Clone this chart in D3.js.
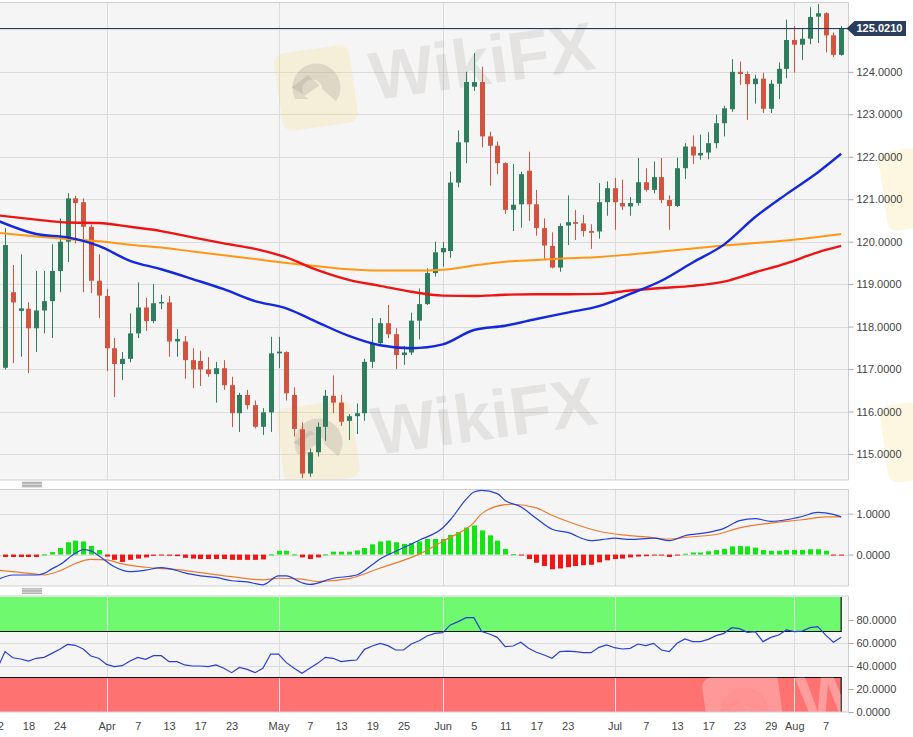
<!DOCTYPE html>
<html lang="en">
<head>
<meta charset="utf-8">
<title>Daily candles with MACD and RSI</title>
<script src="https://d3js.org/d3.v7.min.js"></script>
<style>
  html, body { margin: 0; padding: 0; background: #fff; }
  svg { display: block; font-family: "Liberation Sans", Arial, sans-serif; }
  .ax text { font-size: 11px; fill: #444; }
  .ax line { stroke: #aaa; }
  .ax path { display: none; }
</style>
</head>
<body>
<div id="viz"></div>
<script>
// ---------- data ----------
// trading days; Mar 12 sits just left of the visible window (bar index -1)
const firstDay = "2020-03-12";
const lastDay = "2020-08-11";

const open  = [117.03,118.81,118.37,118.42,117.96,118.38,118.60,119.31,120.00,121.02,120.93,120.35,119.08,118.72,117.49,117.12,117.24,117.84,118.45,118.13,118.55,118.57,117.65,117.65,117.21,117.19,116.99,116.88,117.02,116.62,115.96,116.39,116.15,115.64,115.98,117.37,117.40,116.39,115.58,114.54,115.04,115.64,116.37,116.21,115.78,115.89,115.96,117.17,117.61,118.08,117.82,117.33,117.39,118.14,118.53,119.26,119.75,119.78,121.39,122.34,123.65,123.76,122.48,122.26,121.85,120.75,120.88,121.67,120.88,120.32,119.90,119.39,120.38,120.46,120.43,120.25,120.24,120.93,121.26,120.91,120.83,120.91,121.40,121.22,121.52,120.98,120.84,121.73,122.24,122.03,122.10,122.32,122.79,123.12,124.00,123.95,123.71,123.84,123.13,123.72,124.07,124.75,124.64,124.78,125.30,125.38,124.86,124.40];
const high  = [120.32,119.45,119.70,118.57,119.31,119.31,119.94,120.55,121.14,121.08,121.02,120.40,119.70,118.89,117.73,117.40,118.31,119.04,118.68,119.00,118.75,118.72,117.94,117.78,117.49,117.43,117.28,117.17,117.21,116.82,116.44,116.51,116.26,116.08,117.76,117.76,117.42,116.57,115.74,115.13,115.74,116.51,116.85,116.39,115.94,116.19,117.24,118.20,118.20,118.51,117.96,117.54,118.33,118.90,119.37,120.00,119.99,121.65,122.62,124.00,124.44,124.12,122.59,122.36,121.87,121.83,121.65,122.12,121.22,120.55,120.22,120.43,121.09,120.75,120.63,120.41,121.38,121.42,121.50,121.46,121.05,121.97,121.73,121.89,121.97,121.09,121.98,122.32,122.50,122.52,122.58,122.99,123.20,124.30,124.24,124.01,123.93,123.98,123.81,124.22,125.23,125.08,125.01,125.52,125.60,125.40,124.93,125.08];
const low   = [116.99,117.14,117.29,116.90,117.40,117.84,117.73,118.81,119.52,119.96,118.81,118.79,118.20,116.95,116.34,116.74,117.16,117.73,117.90,118.08,118.41,117.29,117.29,116.77,116.55,116.60,116.82,116.21,116.51,115.63,115.52,116.05,115.60,115.45,115.52,117.02,116.26,115.41,114.43,114.46,114.94,115.31,115.96,115.66,115.33,115.47,115.78,117.02,117.57,117.73,117.00,117.10,117.33,117.70,118.51,119.18,119.41,119.62,121.28,121.85,123.55,122.22,121.32,121.59,120.65,120.25,120.33,120.49,120.14,119.59,119.37,119.29,119.92,120.04,120.12,119.83,120.07,120.61,120.28,120.75,120.61,120.85,121.18,121.14,120.91,120.28,120.82,121.48,121.83,121.93,121.94,122.20,122.48,123.06,123.69,122.87,123.25,123.03,123.03,123.36,123.85,123.98,124.28,124.65,124.68,124.46,124.35,124.38];
const close = [119.92,118.57,118.43,117.96,118.38,118.60,119.31,120.00,121.02,120.91,120.35,119.08,118.73,117.49,117.12,117.24,117.84,118.45,118.13,118.55,118.58,117.65,117.71,117.21,116.99,116.99,116.88,117.02,116.62,115.96,116.39,116.15,115.64,115.98,117.37,117.41,116.43,115.59,114.54,115.04,115.64,116.37,116.21,115.76,115.89,115.96,117.17,117.61,118.08,117.82,117.33,117.39,118.14,118.53,119.26,119.75,119.85,121.39,122.34,123.76,123.76,122.48,122.26,121.85,120.75,120.87,121.59,120.88,120.32,119.91,119.39,120.37,120.46,120.42,120.25,120.21,120.93,121.26,120.93,120.83,120.91,121.40,121.22,121.52,120.98,120.84,121.73,122.24,122.03,122.09,122.32,122.79,123.14,124.00,123.95,123.71,123.84,123.13,123.72,124.07,124.75,124.64,124.78,125.29,125.38,124.86,124.40,125.021];
const lastPrice = 125.0210;

// moving averages, sampled at bar indices
const maAt   = [-1,4,8,12,16,20,24,28,32,36,40,44,48,52,56,60,64,68,72,76,80,84,88,92,96,100,104,107];
const maFast = [120.50,120.18,120.10,119.90,119.55,119.35,119.12,118.88,118.60,118.43,118.10,117.78,117.56,117.49,117.58,117.92,118.02,118.18,118.33,118.48,118.77,119.08,119.51,119.93,120.58,121.12,121.63,122.07];
const maMid  = [120.62,120.52,120.45,120.44,120.35,120.25,120.10,119.96,119.83,119.63,119.33,119.10,118.96,118.82,118.73,118.72,118.75,118.76,118.76,118.77,118.85,118.91,118.96,119.06,119.28,119.49,119.75,119.90];
const maSlow = [120.21,120.12,120.06,120.01,119.93,119.86,119.77,119.68,119.59,119.50,119.42,119.35,119.32,119.32,119.34,119.44,119.53,119.57,119.61,119.64,119.70,119.77,119.84,119.91,119.97,120.03,120.11,120.18];

// MACD
const macdAt = [-1,1,2,4,5,6,7,9,10,11,12,13,14,15,16,18,20,22,23,25,27,29,31,33,35,36,38,39,42,45,47,48,50,53,56,57,59,60,61,63,64,66,68,70,72,75,77,78,80,83,85,87,90,92,94,96,98,100,102,104,106,107];
const macd   = [-0.62,-0.50,-0.50,-0.50,-0.46,-0.35,-0.25,0.03,0.12,0.09,-0.03,-0.17,-0.30,-0.38,-0.42,-0.38,-0.32,-0.39,-0.45,-0.52,-0.56,-0.64,-0.67,-0.74,-0.52,-0.52,-0.69,-0.73,-0.58,-0.50,-0.25,-0.11,0.08,0.35,0.65,0.85,1.35,1.53,1.57,1.49,1.32,1.17,0.88,0.62,0.54,0.34,0.38,0.40,0.37,0.40,0.34,0.46,0.54,0.64,0.83,0.88,0.81,0.85,0.93,1.03,0.98,0.92];
const signalAt = [-1,4,5,7,9,11,13,15,18,22,25,29,33,35,38,40,44,48,53,56,57,60,61,64,65,68,70,73,76,79,82,85,87,91,94,98,102,105,107];
const signal   = [-0.38,-0.48,-0.50,-0.40,-0.22,-0.12,-0.13,-0.23,-0.31,-0.37,-0.44,-0.54,-0.62,-0.58,-0.60,-0.66,-0.59,-0.33,0.01,0.32,0.42,0.78,1.00,1.22,1.23,1.14,0.96,0.74,0.57,0.48,0.43,0.38,0.42,0.49,0.65,0.77,0.85,0.92,0.92];
const hist = [-0.06,-0.06,-0.06,-0.06,-0.06,0.005,0.06,0.16,0.30,0.34,0.32,0.21,0.11,-0.05,-0.13,-0.18,-0.13,-0.10,-0.07,-0.03,-0.005,-0.03,-0.04,-0.08,-0.10,-0.11,-0.11,-0.11,-0.11,-0.13,-0.13,-0.13,-0.13,-0.12,0.005,0.09,0.09,0.005,-0.07,-0.11,-0.07,0.005,0.07,0.07,0.07,0.10,0.16,0.25,0.32,0.34,0.30,0.26,0.28,0.32,0.38,0.38,0.38,0.48,0.55,0.66,0.71,0.59,0.47,0.34,0.14,0.01,-0.02,-0.11,-0.20,-0.28,-0.36,-0.34,-0.31,-0.28,-0.26,-0.25,-0.19,-0.14,-0.11,-0.10,-0.07,-0.05,-0.04,-0.02,-0.02,-0.06,-0.01,0.02,0.05,0.05,0.08,0.11,0.14,0.20,0.21,0.20,0.17,0.11,0.09,0.09,0.11,0.11,0.11,0.13,0.13,0.09,-0.005,-0.005];

// RSI, first value belongs to bar index -1
const rsi = [37.5,52.5,47.2,46.1,44.3,46.7,47.5,51.0,54.5,58.8,58.0,54.8,48.7,46.7,41.4,39.4,40.3,44.3,47.5,45.8,49.0,49.0,43.8,43.8,40.9,40.0,40.0,39.4,40.9,38.0,34.2,38.8,37.1,34.2,38.0,50.4,50.4,42.9,38.0,33.6,38.0,42.3,47.5,46.7,43.8,44.6,45.2,54.5,57.4,59.7,57.7,53.9,53.9,59.1,62.0,66.1,68.4,69.0,75.7,78.6,82.0,82.0,69.9,67.8,64.9,56.8,57.4,60.6,55.4,51.9,49.6,46.7,52.5,53.0,52.5,51.6,51.6,56.2,58.3,55.9,54.8,55.4,59.1,57.7,59.7,53.9,52.5,59.7,63.5,61.2,61.2,63.2,66.4,68.4,73.3,72.5,69.3,69.9,61.2,64.9,67.0,71.3,69.9,70.4,73.3,74.2,67.0,60.6,64.9];
const rsiBands = { over: 70, under: 30, top: 100 };

// axis ticks
const priceTicks = [115,116,117,118,119,120,121,122,123,124];
const macdTicks = [0, 1];
const rsiTicks = [0, 20, 40, 60, 80];
const dateTicks = ["2020-03-12","2020-03-18","2020-03-24","2020-04-01","2020-04-07","2020-04-13","2020-04-17","2020-04-23","2020-05-01","2020-05-07","2020-05-13","2020-05-19","2020-05-25","2020-06-01","2020-06-05","2020-06-11","2020-06-17","2020-06-23","2020-07-01","2020-07-07","2020-07-13","2020-07-17","2020-07-23","2020-07-29","2020-08-03","2020-08-07"];
const dateLabels = ["12","18","24","Apr","7","13","17","23","May","7","13","19","25","Jun","5","11","17","23","Jul","7","13","17","23","29","Aug","7"];

// ---------- layout ----------
const W = 913, H = 737;
const plotR = 848.5;
const pane = {
  price: { top: 2.5, bottom: 480 },
  macd:  { top: 489.5, bottom: 586 },
  rsi:   { top: 596, bottom: 712 }
};

const parse = d3.utcParse("%Y-%m-%d");
const days = d3.utcDay.range(parse(firstDay), d3.utcDay.offset(parse(lastDay), 1))
  .filter(d => d.getUTCDay() !== 0 && d.getUTCDay() !== 6);
const barOf = s => days.findIndex(d => +d === +parse(s)) - 1;

const x = d3.scaleLinear().domain([-0.64, 107.94]).range([0, plotR]);
const yP = d3.scaleLinear().domain([114.387, 125.633]).range([pane.price.bottom, pane.price.top]);
const yM = d3.scaleLinear().domain([-0.769, 1.59]).range([pane.macd.bottom, pane.macd.top]);
const yR = d3.scaleLinear().domain([0, 100.87]).range([pane.rsi.bottom, pane.rsi.top]);

const svg = d3.select("#viz").append("svg").attr("width", W).attr("height", H);
svg.append("rect").attr("width", W).attr("height", H).attr("fill", "#fff");

const defs = svg.append("defs");
Object.entries(pane).forEach(([k, p]) => {
  defs.append("clipPath").attr("id", "clip-" + k)
    .append("rect").attr("x", 0).attr("y", p.top).attr("width", plotR).attr("height", p.bottom - p.top);
});

// pane backgrounds
Object.values(pane).forEach(p => {
  svg.append("rect").attr("x", 0).attr("y", p.top).attr("width", plotR).attr("height", p.bottom - p.top)
    .attr("fill", "#f5f5f5");
});

const monthBars = dateTicks.filter((d, i) => /^[A-Z]/.test(dateLabels[i])).map(barOf);

function grid(p, yScale, ticks) {
  const g = svg.append("g").attr("stroke", "#dcdcdc").attr("stroke-width", 1);
  g.selectAll(".h").data(ticks).enter().append("line")
    .attr("x1", 0).attr("x2", plotR)
    .attr("y1", d => Math.round(yScale(d)) + 0.5).attr("y2", d => Math.round(yScale(d)) + 0.5);
  g.selectAll(".v").data(monthBars).enter().append("line")
    .attr("y1", p.top).attr("y2", p.bottom)
    .attr("x1", d => Math.round(x(d)) + 0.5).attr("x2", d => Math.round(x(d)) + 0.5);
}
grid(pane.price, yP, priceTicks.concat([125]));
grid(pane.macd, yM, macdTicks);

// RSI bands, then grid
const lastX = x(open.length - 1);
svg.append("rect").attr("x", 0).attr("width", lastX)
  .attr("y", yR(rsiBands.top)).attr("height", yR(rsiBands.over) - yR(rsiBands.top)).attr("fill", "#6ff96f");
svg.append("rect").attr("x", 0).attr("width", lastX)
  .attr("y", yR(rsiBands.under)).attr("height", yR(0) - yR(rsiBands.under)).attr("fill", "#ff7272");
grid(pane.rsi, yR, rsiTicks.filter(d => d > 30 && d < 70));
svg.selectAll(".vband").data(monthBars).enter().append("line")
  .attr("y1", yR(rsiBands.top)).attr("y2", yR(rsiBands.over))
  .attr("x1", d => Math.round(x(d)) + 0.5).attr("x2", d => Math.round(x(d)) + 0.5)
  .attr("stroke", "rgba(255,255,255,0.25)");
svg.selectAll(".vband2").data(monthBars).enter().append("line")
  .attr("y1", yR(rsiBands.under)).attr("y2", yR(0))
  .attr("x1", d => Math.round(x(d)) + 0.5).attr("x2", d => Math.round(x(d)) + 0.5)
  .attr("stroke", "rgba(255,255,255,0.25)");
const bandLine = svg.append("g").attr("stroke", "#111").attr("stroke-width", 1.2).attr("fill", "none");
bandLine.append("path").attr("d", `M0,${yR(rsiBands.over)}H${lastX}V${yR(rsiBands.top)}`);
bandLine.append("path").attr("d", `M0,${yR(rsiBands.under)}H${lastX}V${yR(0)}`);

// watermarks
function watermark(parent, cx, cy, textFill, logoFill, eagleFill) {
  const w = parent.append("g").attr("transform", `translate(${cx},${cy}) rotate(-8)`);
  w.append("rect").attr("x", -38).attr("y", -39).attr("width", 76).attr("height", 78).attr("rx", 10)
    .attr("fill", logoFill);
  w.append("path").attr("d", "M-22,8 A24,24 0 1,1 18,16 L6,2 A10,10 0 1,0 -8,10 Z").attr("fill", eagleFill);
  w.append("path").attr("d", "M-24,-4 L-6,-14 L4,-2 L-12,6 Z").attr("fill", eagleFill);
  w.append("text").attr("x", 55).attr("y", 20).text("WikiFX")
    .attr("font-size", 68).attr("font-weight", "bold").attr("fill", textFill);
}
const wmP = svg.append("g").attr("clip-path", "url(#clip-price)");
watermark(wmP, 316, 88, "rgba(120,100,100,0.13)", "rgba(246,214,120,0.22)", "rgba(110,100,100,0.16)");
watermark(wmP, 318, 443, "rgba(120,100,100,0.13)", "rgba(246,214,120,0.22)", "rgba(110,100,100,0.16)");
const wmR = svg.append("g");
wmR.append("rect").attr("x", 883).attr("y", 150).attr("width", 40).attr("height", 80).attr("rx", 10)
  .attr("fill", "rgba(246,214,120,0.22)").attr("transform", "rotate(-8 900 190)");
wmR.append("rect").attr("x", 884).attr("y", 404).attr("width", 40).attr("height", 78).attr("rx", 10)
  .attr("fill", "rgba(246,214,120,0.22)").attr("transform", "rotate(-8 900 443)");
defs.append("clipPath").attr("id", "clip-red").append("rect")
  .attr("x", 0).attr("y", yR(rsiBands.under)).attr("width", lastX).attr("height", yR(0) - yR(rsiBands.under));
const wmB = svg.append("g").attr("clip-path", "url(#clip-red)");
watermark(wmB, 744, 712, "rgba(255,255,255,0.30)", "rgba(255,255,255,0.28)", "rgba(255,140,140,0.5)");

// pane borders
const border = svg.append("g").attr("stroke", "#cfcfcf").attr("stroke-width", 1).attr("fill", "none");
Object.values(pane).forEach(p => {
  border.append("path").attr("d", `M0,${p.top}H${plotR}V${p.bottom}H0`);
});

// separator grips
[484.5, 591].forEach(yy => {
  const g = svg.append("g").attr("stroke", "#777").attr("stroke-width", 0.7);
  [-2.2, -0.7, 0.8, 2.3].forEach(o => g.append("line").attr("x1", 22).attr("x2", 42)
    .attr("y1", yy + o).attr("y2", yy + o));
});

// ---------- price pane ----------
const upCol = "#2e7d5f", downCol = "#d2533f";
const bars = open.map((o, i) => ({ i, o, h: high[i], l: low[i], c: close[i] }));
const cg = svg.append("g").attr("clip-path", "url(#clip-price)");
cg.selectAll(".wick").data(bars).enter().append("line")
  .attr("x1", d => Math.round(x(d.i)) + 0.5).attr("x2", d => Math.round(x(d.i)) + 0.5)
  .attr("y1", d => yP(d.h)).attr("y2", d => yP(d.l))
  .attr("stroke", d => d.c >= d.o ? upCol : downCol).attr("stroke-width", 1);
cg.selectAll(".body").data(bars).enter().append("rect")
  .attr("x", d => Math.round(x(d.i)) - 2).attr("width", 5)
  .attr("y", d => yP(Math.max(d.o, d.c)))
  .attr("height", d => Math.max(1.5, Math.abs(yP(d.o) - yP(d.c))))
  .attr("fill", d => d.c >= d.o ? upCol : downCol);

const maLine = d3.line().x(d => x(d[0])).y(d => yP(d[1])).curve(d3.curveMonotoneX);
[[maSlow, "#ff9614", 2], [maMid, "#ee1414", 2.4], [maFast, "#1428dc", 2.4]].forEach(([vals, col, w]) => {
  cg.append("path").datum(maAt.map((a, k) => [a, vals[k]]))
    .attr("d", maLine).attr("fill", "none").attr("stroke", col).attr("stroke-width", w);
});

// last price line and tag
const yLast = yP(lastPrice);
svg.append("line").attr("x1", 0).attr("x2", plotR).attr("y1", yLast).attr("y2", yLast)
  .attr("stroke", "#263a5b").attr("stroke-width", 1.2);

// ---------- MACD pane ----------
const mg = svg.append("g").attr("clip-path", "url(#clip-macd)");
mg.selectAll(".hb").data(hist).enter().append("rect")
  .attr("x", (d, i) => Math.round(x(i)) - 2).attr("width", 5)
  .attr("y", d => d >= 0 ? yM(d) : yM(0))
  .attr("height", d => Math.max(1, Math.abs(yM(d) - yM(0))))
  .attr("fill", d => d >= 0 ? "#12e612" : "#f51414");
const mLine = d3.line().x(d => x(d[0])).y(d => yM(d[1])).curve(d3.curveMonotoneX);
mg.append("path").datum(signalAt.map((a, k) => [a, signal[k]])).attr("d", mLine)
  .attr("fill", "none").attr("stroke", "#f07a2c").attr("stroke-width", 1.2);
mg.append("path").datum(macdAt.map((a, k) => [a, macd[k]])).attr("d", mLine)
  .attr("fill", "none").attr("stroke", "#2340d8").attr("stroke-width", 1.2);

// ---------- RSI pane ----------
const rg = svg.append("g").attr("clip-path", "url(#clip-rsi)");
rg.append("path").datum(rsi.map((v, k) => [k - 1, v]))
  .attr("d", d3.line().x(d => x(d[0])).y(d => yR(d[1])))
  .attr("fill", "none").attr("stroke", "#2a3fd2").attr("stroke-width", 1.2);

// ---------- axes ----------
const fmt = d3.format(".4f");
function rightAxis(scale, ticks) {
  svg.append("g").attr("class", "ax").attr("transform", `translate(${plotR},0)`)
    .call(d3.axisRight(scale).tickValues(ticks).tickFormat(fmt).tickSize(5).tickPadding(3));
}
rightAxis(yP, priceTicks);
rightAxis(yM, macdTicks);
rightAxis(yR, rsiTicks);

svg.append("g").attr("class", "ax").attr("transform", `translate(0,${pane.rsi.bottom})`)
  .call(d3.axisBottom(x).tickValues(dateTicks.map(barOf)).tickFormat((d, i) => dateLabels[i])
    .tickSize(0).tickPadding(10));

// price tag on top of the axis
const tag = svg.append("g");
tag.append("path")
  .attr("d", `M${plotR - 2},${yLast} L${plotR + 6},${yLast - 7.5} H906 V${yLast + 7.5} H${plotR + 6} Z`)
  .attr("fill", "#2b3d5c");
tag.append("text").attr("x", 856.5).attr("y", yLast + 4).text(fmt(lastPrice))
  .attr("font-size", 11).attr("font-weight", "bold").attr("fill", "#fff");
</script>
</body>
</html>
